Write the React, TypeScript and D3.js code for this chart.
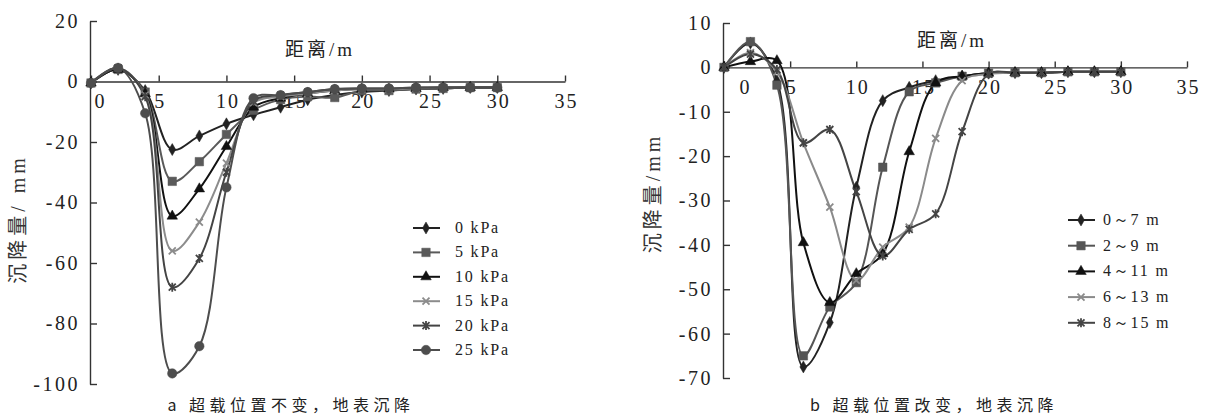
import React, { useRef, useEffect } from 'react';
import * as d3 from 'd3';

// distance along the surface (m)
const X_VALUES = [0, 2, 4, 6, 8, 10, 12, 14, 16, 18, 20, 22, 24, 26, 28, 30];

// a: surcharge fixed, magnitude varies
const LOAD_LABELS = ['0 kPa', '5 kPa', '10 kPa', '15 kPa', '20 kPa', '25 kPa'];
const LOAD_0 = [-0.5, 4, -3, -22.5, -18, -14, -11, -8.5, -6, -4.5, -3.5, -3, -2.5, -2.3, -2, -2];
const LOAD_5 = [-0.5, 4, -3.5, -33, -26.5, -17.5, -9.5, -6, -5, -5.3, -3, -3, -2.5, -2.3, -2, -2];
const LOAD_10 = [-0.5, 4, -4, -44.5, -35.5, -21.5, -8.5, -5.5, -4, -3, -2.5, -2.5, -2.3, -2, -2, -2];
const LOAD_15 = [-0.5, 4.5, -4.5, -56, -46.5, -27, -7, -5, -4, -3, -2.5, -2.5, -2.3, -2, -2, -2];
const LOAD_20 = [-0.5, 4.5, -5, -68, -58.5, -30, -6.5, -4.5, -3.5, -2.5, -2.3, -2.3, -2, -2, -2, -2];
const LOAD_25 = [-0.5, 4.5, -10.5, -96.5, -87.5, -35, -5.5, -4.5, -3.5, -2.5, -2.3, -2.3, -2, -2, -2, -2];

// b: surcharge moves
const POS_LABELS = ['0～7 m', '2～9 m', '4～11 m', '6～13 m', '8～15 m'];
const POS_0_7 = [0, 5.5, -3, -67.5, -57.5, -27, -7.5, -4.5, -3, -2, -1.3, -1.2, -1.2, -1, -1, -1];
const POS_2_9 = [0, 5.8, -4, -65, -54, -48.5, -22.5, -5.5, -3.5, -2, -1.3, -1.2, -1.2, -1, -1, -1];
const POS_4_11 = [0, 1.3, 1.5, -39.5, -53, -46.5, -42, -19, -3.5, -2, -1.3, -1.2, -1.2, -1, -1, -1];
const POS_6_13 = [0, 3.3, -1, -17, -31.5, -48, -40.5, -36, -16, -3, -1.5, -1.2, -1.2, -1, -1, -1];
const POS_8_15 = [0, 3, -0.5, -17, -14, -28, -42.5, -36.5, -33, -14.5, -1.5, -1.2, -1.2, -1, -1, -1];

const X_TICKS = [0, 5, 10, 15, 20, 25, 30, 35];
const Y_TICKS_A = [-100, -80, -60, -40, -20, 0, 20];
const Y_TICKS_B = [-70, -60, -50, -40, -30, -20, -10, 0, 10];

const SERIF = "'Liberation Serif', 'Times New Roman', 'DejaVu Serif', serif";
const CJK = "'Noto Sans CJK SC', sans-serif";

const markerPath = (kind) => {
    if (kind === 'diamond') return d3.symbol(d3.symbolDiamond, 42)();
    if (kind === 'square') return d3.symbol(d3.symbolSquare, 72)();
    if (kind === 'triangle') return d3.symbol(d3.symbolTriangle, 48)();
    if (kind === 'circle') return d3.symbol(d3.symbolCircle, 70)();
    if (kind === 'x') return 'M-3.5,-3.5L3.5,3.5M-3.5,3.5L3.5,-3.5';
    return 'M-3.5,-3.5L3.5,3.5M-3.5,3.5L3.5,-3.5M0,-4.5L0,4.5';
};

const drawMarker = (sel, kind, color) => {
    const open = kind === 'x' || kind === 'star';
    sel.append('path')
        .attr('d', markerPath(kind))
        .attr('fill', open ? 'none' : color)
        .attr('stroke', color)
        .attr('stroke-width', open ? 1.8 : 0.5);
};

function Panel(props) {
    const { cfg } = props;
    const ref = useRef();

    useEffect(() => {
        const g = d3.select(ref.current);
        g.selectAll('*').remove();

        const xScale = d3.scaleLinear().domain([0, 35]).range(cfg.xRange);
        const yScale = d3.scaleLinear().domain(cfg.yDomain).range(cfg.yRange);
        const y0 = yScale(0);

        const xAxis = d3.axisBottom(xScale)
            .tickValues(X_TICKS)
            .tickFormat(d => String(d))
            .tickSizeInner(-6)
            .tickSizeOuter(0)
            .tickPadding(12);
        const xg = g.append('g').attr('transform', `translate(0,${y0})`).call(xAxis);
        xg.selectAll('text')
            .attr('x', d => (d === 0 ? cfg.zeroShift : 1))
            .style('font-family', SERIF)
            .style('font-size', '20px')
            .style('letter-spacing', '2px')
            .attr('fill', '#222');

        const yAxis = d3.axisLeft(yScale)
            .tickValues(cfg.yTicks)
            .tickFormat(d => String(d))
            .tickSizeInner(-7)
            .tickSizeOuter(0)
            .tickPadding(10);
        const yg = g.append('g').attr('transform', `translate(${cfg.xRange[0] - 1},0)`).call(yAxis);
        yg.selectAll('text')
            .style('font-family', SERIF)
            .style('font-size', '20px')
            .style('letter-spacing', '2.5px')
            .attr('fill', '#222');

        [xg, yg].forEach(a => {
            a.select('.domain').attr('stroke', '#333').attr('stroke-width', 1.4);
            a.selectAll('.tick line').attr('stroke', '#333').attr('stroke-width', 1.4);
        });

        const line = d3.line()
            .x((d, i) => xScale(X_VALUES[i]))
            .y(d => yScale(d))
            .curve(d3.curveCatmullRom.alpha(0.5));

        cfg.series.forEach(s => {
            g.append('path')
                .attr('d', line(s.values))
                .attr('fill', 'none')
                .attr('stroke', s.color)
                .attr('stroke-width', 2);
        });
        cfg.series.forEach(s => {
            s.values.forEach((v, i) => {
                const m = g.append('g')
                    .attr('transform', `translate(${xScale(X_VALUES[i])},${yScale(v)})`);
                drawMarker(m, s.marker, s.color);
            });
        });

        // legend
        const lg = g.append('g');
        cfg.series.forEach((s, i) => {
            const yy = cfg.legendY + i * cfg.legendStep;
            lg.append('line')
                .attr('x1', cfg.legendX - 13).attr('x2', cfg.legendX + 14)
                .attr('y1', yy).attr('y2', yy)
                .attr('stroke', s.color).attr('stroke-width', 2);
            drawMarker(lg.append('g').attr('transform', `translate(${cfg.legendX},${yy})`), s.marker, s.color);
            lg.append('text')
                .attr('x', cfg.legendX + cfg.legendTextGap)
                .attr('y', yy + 5)
                .style('font-family', SERIF)
                .style('font-size', '16px')
                .style('letter-spacing', '1.8px')
                .attr('fill', '#222')
                .text(s.label);
        });

        // axis titles and caption
        g.append('text')
            .attr('x', cfg.xTitle[0]).attr('y', cfg.xTitle[1])
            .attr('text-anchor', 'middle')
            .style('font-family', SERIF)
            .style('font-size', '19px')
            .style('letter-spacing', '3px')
            .attr('fill', '#222')
            .call(t => {
                t.append('tspan').style('font-family', CJK).text('距离');
                t.append('tspan').text('/m');
            });

        g.append('text')
            .attr('transform', `translate(${cfg.yTitle[0]},${cfg.yTitle[1]}) rotate(-90)`)
            .attr('text-anchor', 'middle')
            .style('font-family', SERIF)
            .style('font-size', '20px')
            .style('letter-spacing', '4px')
            .attr('fill', '#333')
            .call(t => {
                t.append('tspan').style('font-family', CJK).text('沉降量');
                t.append('tspan').text(cfg.yUnit);
            });

        g.append('text')
            .attr('x', cfg.caption[0]).attr('y', cfg.caption[1])
            .attr('text-anchor', 'middle')
            .style('font-family', CJK)
            .style('font-size', '16px')
            .style('letter-spacing', '4.5px')
            .attr('fill', '#222')
            .text(cfg.captionText);
    });

    return <g ref={ref} />;
}

const PANEL_A = {
    xRange: [91, 565],
    yDomain: [-100, 20],
    yRange: [384, 21],
    yTicks: Y_TICKS_A,
    zeroShift: 9,
    legendX: 426,
    legendY: 228,
    legendStep: 24.4,
    legendTextGap: 29,
    xTitle: [320, 56],
    yTitle: [25, 219],
    yUnit: '/ mm',
    caption: [291, 411],
    captionText: 'a 超载位置不变，地表沉降',
    series: [
        { label: LOAD_LABELS[0], values: LOAD_0, color: '#222', marker: 'diamond' },
        { label: LOAD_LABELS[1], values: LOAD_5, color: '#5a5a5a', marker: 'square' },
        { label: LOAD_LABELS[2], values: LOAD_10, color: '#111', marker: 'triangle' },
        { label: LOAD_LABELS[3], values: LOAD_15, color: '#8c8c8c', marker: 'x' },
        { label: LOAD_LABELS[4], values: LOAD_20, color: '#444', marker: 'star' },
        { label: LOAD_LABELS[5], values: LOAD_25, color: '#4d4d4d', marker: 'circle' },
    ],
};

const PANEL_B = {
    xRange: [724, 1187],
    yDomain: [-70, 10],
    yRange: [378, 23],
    yTicks: Y_TICKS_B,
    zeroShift: 21,
    legendX: 1081,
    legendY: 220,
    legendStep: 25.7,
    legendTextGap: 22,
    xTitle: [952, 47],
    yTitle: [660, 193],
    yUnit: '/mm',
    caption: [934, 411],
    captionText: 'b 超载位置改变，地表沉降',
    series: [
        { label: POS_LABELS[0], values: POS_0_7, color: '#222', marker: 'diamond' },
        { label: POS_LABELS[1], values: POS_2_9, color: '#555', marker: 'square' },
        { label: POS_LABELS[2], values: POS_4_11, color: '#111', marker: 'triangle' },
        { label: POS_LABELS[3], values: POS_6_13, color: '#8a8a8a', marker: 'x' },
        { label: POS_LABELS[4], values: POS_8_15, color: '#444', marker: 'star' },
    ],
};

export default function App() {
    return (
        <svg width={1209} height={417}
            style={{ position: 'absolute', left: 0, top: 0, background: '#fff' }}>
            <Panel cfg={PANEL_A} />
            <Panel cfg={PANEL_B} />
        </svg>
    );
}
